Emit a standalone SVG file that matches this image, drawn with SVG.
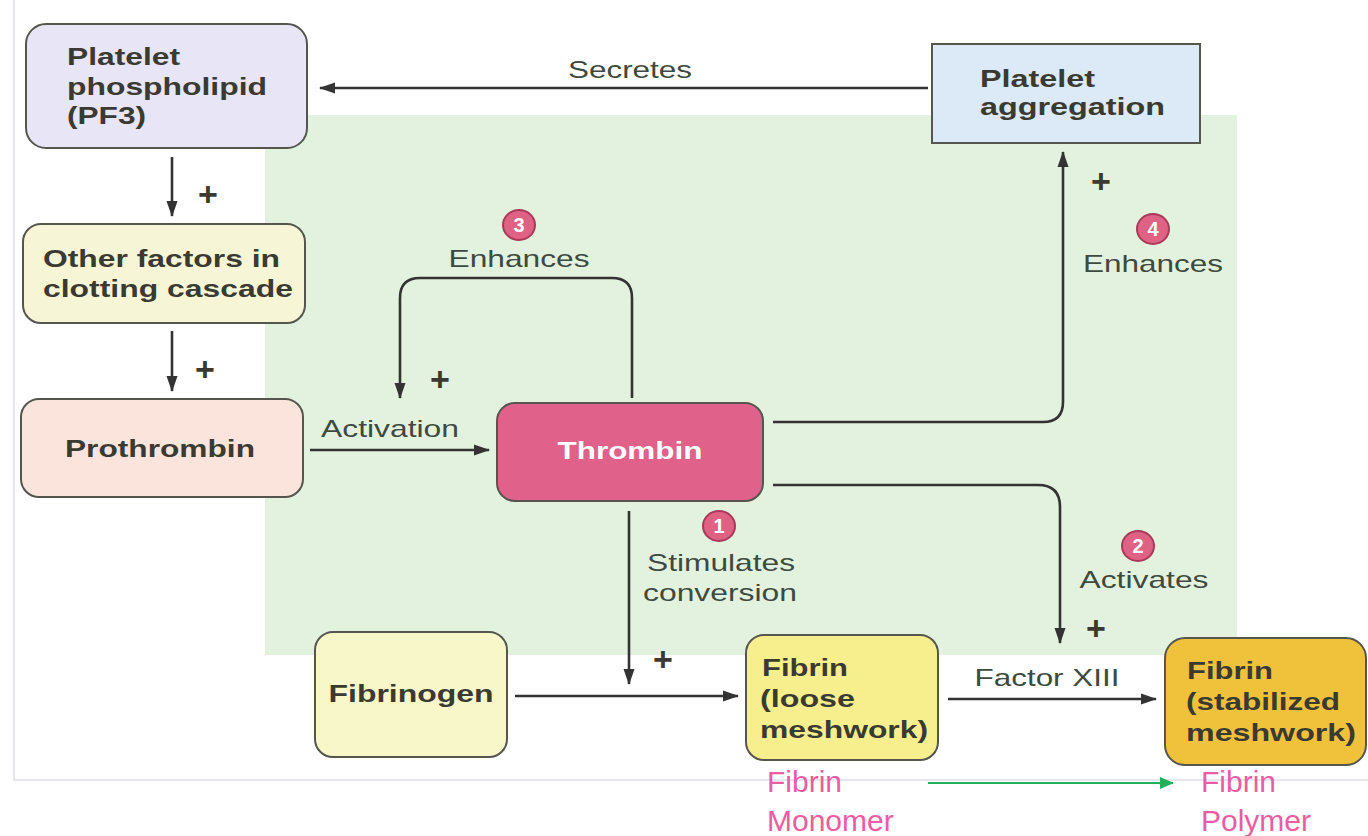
<svg xmlns="http://www.w3.org/2000/svg" width="1368" height="836" viewBox="0 0 1368 836">
<defs>
<marker id="ah" markerUnits="userSpaceOnUse" markerWidth="16" markerHeight="12" refX="15" refY="6" orient="auto">
<path d="M0,0.5 L16,6 L0,11.5 z" fill="#333"/>
</marker>
<marker id="ahg" markerUnits="userSpaceOnUse" markerWidth="14" markerHeight="12" refX="13" refY="6" orient="auto">
<path d="M0,0 L14,6 L0,12 z" fill="#22b05a"/>
</marker>
</defs>
<style>
.box{stroke:#55574f;stroke-width:2}
.b{font-family:"Liberation Sans",Arial,sans-serif;font-weight:bold;font-size:24px;fill:#3a3a32}
.r{font-family:"Liberation Sans",Arial,sans-serif;font-size:24px;fill:#3e4a40}
.p{font-family:"Liberation Sans",Arial,sans-serif;font-weight:bold;font-size:34px;fill:#3a3a32}
.pk{font-family:"Liberation Sans",Arial,sans-serif;font-size:30px;fill:#ec5ca2}
.num{font-family:"Liberation Sans",Arial,sans-serif;font-weight:bold;font-size:20px;fill:#fff}
.circ{fill:#df6184;stroke:#a83a58;stroke-width:2}
.ln{fill:none;stroke:#333;stroke-width:2.6}
</style>
<rect x="0" y="0" width="1368" height="836" fill="#fff"/>
<path d="M14,0 V780 H1368" fill="none" stroke="#e6e6ee" stroke-width="2"/>
<rect x="265" y="115" width="972" height="540" fill="#e3f2df"/>

<g id="connectors">
<path class="ln" d="M928,88 H320" marker-end="url(#ah)"/>
<path class="ln" d="M172,157 V216" marker-end="url(#ah)"/>
<path class="ln" d="M172,331 V391" marker-end="url(#ah)"/>
<path class="ln" d="M310,450 H489" marker-end="url(#ah)"/>
<path class="ln" d="M632,398 V298 Q632,278 612,278 H420 Q400,278 400,298 V398" marker-end="url(#ah)"/>
<path class="ln" d="M773,422 H1043 Q1063,422 1063,402 V152" marker-end="url(#ah)"/>
<path class="ln" d="M773,485 H1038 Q1060,485 1060,507 V643" marker-end="url(#ah)"/>
<path class="ln" d="M629,511 V684" marker-end="url(#ah)"/>
<path class="ln" d="M515,696 H738" marker-end="url(#ah)"/>
<path class="ln" d="M948,699 H1156" marker-end="url(#ah)"/>
<path d="M928,783 H1173" fill="none" stroke="#22b05a" stroke-width="2.2" marker-end="url(#ahg)"/>
<text class="r" x="630" y="78" text-anchor="middle" textLength="124" lengthAdjust="spacingAndGlyphs">Secretes</text>
<text class="p" x="208" y="206" text-anchor="middle">+</text>
<text class="p" x="205" y="381" text-anchor="middle">+</text>
<text class="r" x="390" y="437" text-anchor="middle" textLength="138" lengthAdjust="spacingAndGlyphs">Activation</text>
<ellipse class="circ" cx="519" cy="225" rx="16" ry="15"/>
<text class="num" x="519" y="232" text-anchor="middle">3</text>
<text class="r" x="519" y="267" text-anchor="middle" textLength="141" lengthAdjust="spacingAndGlyphs">Enhances</text>
<text class="p" x="440" y="391" text-anchor="middle">+</text>
<text class="p" x="1101" y="193" text-anchor="middle">+</text>
<ellipse class="circ" cx="1153" cy="229" rx="16" ry="15"/>
<text class="num" x="1153" y="236" text-anchor="middle">4</text>
<text class="r" x="1153" y="272" text-anchor="middle" textLength="140" lengthAdjust="spacingAndGlyphs">Enhances</text>
<ellipse class="circ" cx="719" cy="526" rx="16" ry="15"/>
<text class="num" x="719" y="533" text-anchor="middle">1</text>
<text class="r" x="721" y="571" text-anchor="middle" textLength="148" lengthAdjust="spacingAndGlyphs">Stimulates</text>
<text class="r" x="720" y="601" text-anchor="middle" textLength="154" lengthAdjust="spacingAndGlyphs">conversion</text>
<text class="p" x="663" y="671" text-anchor="middle">+</text>
<ellipse class="circ" cx="1138" cy="546" rx="16" ry="15"/>
<text class="num" x="1138" y="553" text-anchor="middle">2</text>
<text class="r" x="1144" y="588" text-anchor="middle" textLength="129" lengthAdjust="spacingAndGlyphs">Activates</text>
<text class="p" x="1096" y="640" text-anchor="middle">+</text>
<text class="r" x="1047" y="686" text-anchor="middle" textLength="145" lengthAdjust="spacingAndGlyphs">Factor XIII</text>
</g>

<g id="pf3">
<rect class="box" x="26" y="24" width="281" height="124" rx="20" fill="#e7e5f6"/>
<text class="b" x="67" y="65" textLength="113" lengthAdjust="spacingAndGlyphs">Platelet</text>
<text class="b" x="67" y="95" textLength="200" lengthAdjust="spacingAndGlyphs">phospholipid</text>
<text class="b" x="67" y="124" textLength="79" lengthAdjust="spacingAndGlyphs">(PF3)</text>
</g>
<g id="other">
<rect class="box" x="23" y="224" width="282" height="99" rx="18" fill="#f6f6d6"/>
<text class="b" x="43" y="267" textLength="237" lengthAdjust="spacingAndGlyphs">Other factors in</text>
<text class="b" x="43" y="297" textLength="250" lengthAdjust="spacingAndGlyphs">clotting cascade</text>
</g>
<g id="prothrombin">
<rect class="box" x="21" y="399" width="282" height="98" rx="18" fill="#fbe4dc"/>
<text class="b" x="160" y="457" text-anchor="middle" textLength="190" lengthAdjust="spacingAndGlyphs">Prothrombin</text>
</g>
<g id="thrombin">
<rect class="box" x="497" y="403" width="266" height="98" rx="18" fill="#e0628a"/>
<text class="b" x="630" y="459" text-anchor="middle" textLength="145" lengthAdjust="spacingAndGlyphs" style="fill:#fff">Thrombin</text>
</g>
<g id="aggregation">
<rect class="box" x="932" y="44" width="268" height="99" fill="#dce9f7"/>
<text class="b" x="980" y="87" textLength="115" lengthAdjust="spacingAndGlyphs">Platelet</text>
<text class="b" x="980" y="115" textLength="185" lengthAdjust="spacingAndGlyphs">aggregation</text>
</g>
<g id="fibrinogen">
<rect class="box" x="315" y="632" width="192" height="125" rx="18" fill="#f7f7c9"/>
<text class="b" x="411" y="702" text-anchor="middle" textLength="165" lengthAdjust="spacingAndGlyphs">Fibrinogen</text>
</g>
<g id="fibrin-loose">
<rect class="box" x="746" y="635" width="192" height="125" rx="18" fill="#f7ef8d"/>
<text class="b" x="762" y="676" textLength="86" lengthAdjust="spacingAndGlyphs">Fibrin</text>
<text class="b" x="760" y="707" textLength="95" lengthAdjust="spacingAndGlyphs">(loose</text>
<text class="b" x="760" y="738" textLength="168" lengthAdjust="spacingAndGlyphs">meshwork)</text>
</g>
<g id="fibrin-stabilized">
<rect class="box" x="1165" y="638" width="201" height="127" rx="20" fill="#f0c23c"/>
<text class="b" x="1187" y="679" textLength="86" lengthAdjust="spacingAndGlyphs">Fibrin</text>
<text class="b" x="1186" y="710" textLength="154" lengthAdjust="spacingAndGlyphs">(stabilized</text>
<text class="b" x="1186" y="741" textLength="170" lengthAdjust="spacingAndGlyphs">meshwork)</text>
</g>
<g id="monomer">
<text class="pk" x="767" y="792">Fibrin</text>
<text class="pk" x="767" y="831">Monomer</text>
</g>
<g id="polymer">
<text class="pk" x="1201" y="792">Fibrin</text>
<text class="pk" x="1201" y="831">Polymer</text>
</g>
</svg>
